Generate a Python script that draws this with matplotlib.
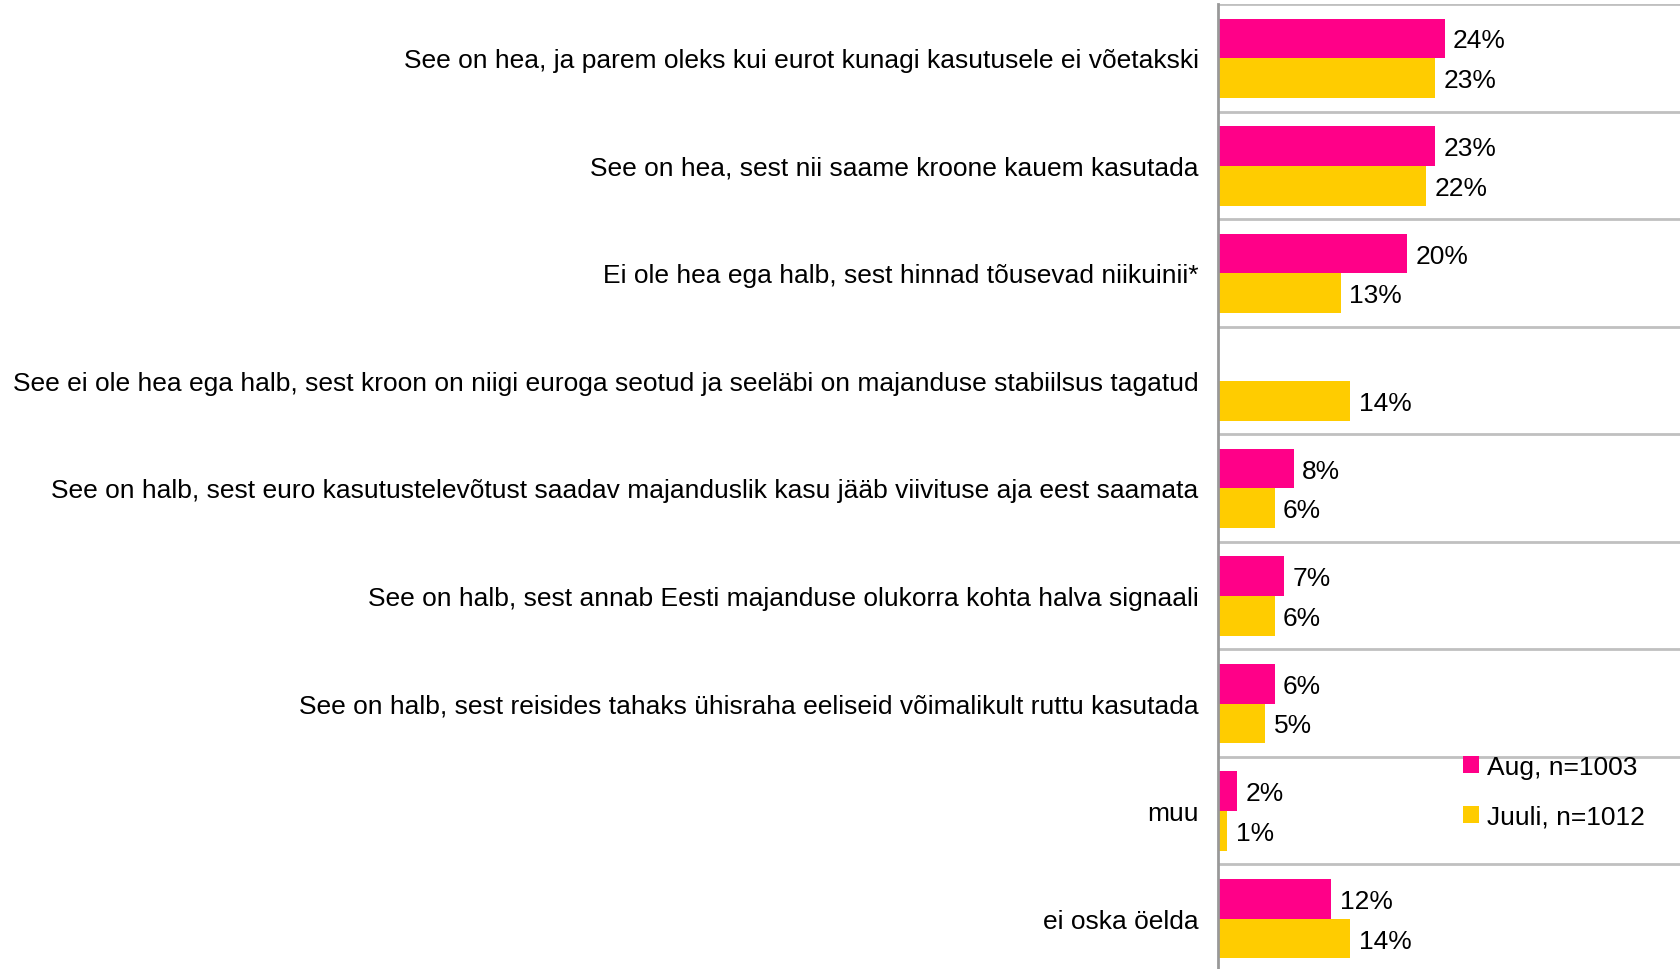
import numpy as np
import matplotlib
matplotlib.use("Agg")
import matplotlib.pyplot as plt

# Data
categories = [
    "See on hea, ja parem oleks kui eurot kunagi kasutusele ei võetakski",
    "See on hea, sest nii saame kroone kauem kasutada",
    "Ei ole hea ega halb, sest hinnad tõusevad niikuinii*",
    "See ei ole hea ega halb, sest kroon on niigi euroga seotud ja seeläbi on majanduse stabiilsus tagatud",
    "See on halb, sest euro kasutustelevõtust saadav majanduslik kasu jääb viivituse aja eest saamata",
    "See on halb, sest annab Eesti majanduse olukorra kohta halva signaali",
    "See on halb, sest reisides tahaks ühisraha eeliseid võimalikult ruttu kasutada",
    "muu",
    "ei oska öelda",
]
aug = [24, 23, 20, None, 8, 7, 6, 2, 12]
juuli = [23, 22, 13, 14, 6, 6, 5, 1, 14]
series_names = ["Aug, n=1003", "Juuli, n=1012"]

pink = "#FF0088"
yellow = "#FFCC00"

plt.rcParams["font.family"] = ["Liberation Sans", "DejaVu Sans"]
fs = 19

fig = plt.figure(figsize=(16.8, 9.7), dpi=100)
ax = fig.add_axes([1218 / 1680, 1 - 972.8 / 970, 1 - 1218 / 1680, (972.8 - 5) / 970])

y = np.arange(len(categories))
h = 0.37
off = 0.005

aug_vals = [v if v is not None else 0 for v in aug]
ax.barh(y - h / 2 + off, aug_vals, height=h, color=pink, label=series_names[0])
ax.barh(y + h / 2 + off, juuli, height=h, color=yellow, label=series_names[1])

# Value labels
for i, v in enumerate(aug):
    if v is not None:
        ax.annotate(f"{v}%", (v, y[i] - h / 2 + off), xytext=(6, -1.5),
                    textcoords="offset points", va="center", ha="left", fontsize=fs)
for i, v in enumerate(juuli):
    ax.annotate(f"{v}%", (v, y[i] + h / 2 + off), xytext=(6, -1.5),
                textcoords="offset points", va="center", ha="left", fontsize=fs)

ax.set_xlim(0, 48.9)
ax.set_ylim(len(categories) - 0.5, -0.5)
ax.set_yticks(y)
ax.set_yticklabels(categories, fontsize=fs)
ax.tick_params(axis="y", length=0, pad=14)
ax.set_xticks([])

# Gridlines between categories
ax.set_yticks(np.arange(-0.5, len(categories), 1), minor=True)
ax.tick_params(axis="y", which="minor", length=0)
ax.grid(True, axis="y", which="minor", color="#c0c0c0", linewidth=2)
ax.set_axisbelow(True)

for s in ["top", "right", "bottom"]:
    ax.spines[s].set_visible(False)
ax.spines["left"].set_color("#999999")
ax.spines["left"].set_linewidth(2)
ax.spines["left"].set_zorder(5)

ax.legend(loc="upper left", bbox_to_anchor=(1463 / 1680, 1 - 756 / 970),
          bbox_transform=fig.transFigure, frameon=False, fontsize=fs,
          handlelength=0.62, handleheight=0.62, handletextpad=0.3,
          labelspacing=0.98, borderaxespad=0, borderpad=0)

fig.savefig("out.png", dpi=100)
